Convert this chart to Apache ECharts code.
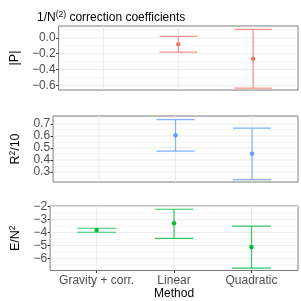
<!DOCTYPE html>
<html>
<head>
<meta charset="utf-8">
<script src="https://cdn.jsdelivr.net/npm/echarts@6/dist/echarts.min.js"></script>
<style>html,body{margin:0;padding:0;background:#fff}#c{width:301px;height:301px}</style>
</head>
<body>
<div id="c"></div>
<script>
var methods = ['Gravity + corr.', 'Linear', 'Quadratic'];
var methodPos = [1, 2, 3];

var pVal  = [null, -0.08, -0.265];
var pLow  = [null, -0.18, -0.635];
var pHigh = [null, 0.02, 0.11];

var rVal  = [null, 0.607, 0.452];
var rLow  = [null, 0.474, 0.236];
var rHigh = [null, 0.737, 0.665];

var eVal  = [-3.80, -3.28, -5.13];
var eLow  = [-3.98, -4.46, -6.75];
var eHigh = [-3.67, -2.20, -3.50];

var pTicks = [-0.6, -0.4, -0.2, 0.0];
var pMinor = [-0.5, -0.3, -0.1, 0.1];
var rTicks = [0.3, 0.4, 0.5, 0.6, 0.7];
var rMinor = [0.25, 0.35, 0.45, 0.55, 0.65, 0.75];
var eTicks = [-6, -5, -4, -3, -2];
var eMinor = [-6.5, -5.5, -4.5, -3.5, -2.5];

var pointColors = ['#F8766D', '#619CFF', '#00BA38'];
var barColors = ['#F9918A', '#81B0FF', '#33C860'];
var FONT = 'Liberation Sans';

var panels = [
  {val: pVal, low: pLow, high: pHigh, ticks: pTicks, minor: pMinor, min: -0.66, max: 0.152, dec: 1, top: 26, height: 64,
   name: '|P|'},
  {val: rVal, low: rLow, high: rHigh, ticks: rTicks, minor: rMinor, min: 0.216, max: 0.767, dec: 1, top: 116, height: 66,
   name: 'R{sup|2}/10'},
  {val: eVal, low: eLow, high: eHigh, ticks: eTicks, minor: eMinor, min: -6.94, max: -1.95, dec: 0, top: 206, height: 66,
   name: 'E/N{sup|2}'}
];

function fmt(v, dec) { return v.toFixed(dec).replace('-', '\u2212'); }

var grids = [], xAxes = [], yAxes = [], series = [];
panels.forEach(function (p, i) {
  var barColor = barColors[i];
  grids.push({left: 36, top: p.top, width: 262, height: p.height, show: true, borderColor: '#7a7a7a', borderWidth: 1, backgroundColor: 'transparent', containLabel: false});
  var last = i === panels.length - 1;
  xAxes.push({
    type: 'value', gridIndex: i, min: 0.4, max: 3.6,
    axisLine: {show: false}, splitLine: {show: false},
    axisTick: {show: last, customValues: methodPos, length: 2.5, lineStyle: {color: '#333', width: 1}},
    axisLabel: {show: last, customValues: methodPos, margin: 4, color: '#4D4D4D', fontSize: 12, fontFamily: FONT,
      formatter: function (v) { return methods[Math.round(v) - 1]; }},
    name: last ? 'Method' : '', nameLocation: 'middle', nameGap: 17.5,
    nameTextStyle: {color: '#000', fontSize: 12, fontFamily: FONT}
  });
  yAxes.push({
    type: 'value', gridIndex: i, min: p.min, max: p.max,
    axisLine: {show: false}, splitLine: {show: false},
    axisTick: {show: true, customValues: p.ticks, length: 2.5, lineStyle: {color: '#333', width: 1}},
    axisLabel: {customValues: p.ticks, margin: 3, color: '#4D4D4D', fontSize: 12, fontFamily: FONT,
      formatter: (function (d) { return function (v) { return fmt(v, d); }; })(p.dec)},
    name: p.name, nameLocation: 'middle', nameGap: 25, nameRotate: 90,
    nameTextStyle: {color: '#000', fontSize: 12.5, fontFamily: FONT,
      rich: {sup: {fontSize: 8.5, verticalAlign: 'top', padding: [0, 0, 7, 0], color: '#000', fontFamily: FONT}}}
  });

  var gl = [];
  p.minor.forEach(function (v) { gl.push([0, v, 0.5]); });
  p.ticks.forEach(function (v) { gl.push([0, v, 1]); });
  methodPos.forEach(function (v) { gl.push([1, v, 1]); });
  series.push({
    type: 'custom', xAxisIndex: i, yAxisIndex: i, z: 0, silent: true, clip: true,
    data: gl,
    renderItem: function (params, api) {
      var cs = params.coordSys;
      var kind = api.value(0), v = api.value(1), w = api.value(2);
      var shape;
      if (kind === 0) {
        var y = api.coord([1, v])[1];
        if (y < cs.y || y > cs.y + cs.height) return null;
        shape = {x1: cs.x, y1: y, x2: cs.x + cs.width, y2: y};
      } else {
        var x = api.coord([v, p.min])[0];
        shape = {x1: x, y1: cs.y, x2: x, y2: cs.y + cs.height};
      }
      return {type: 'line', shape: shape, style: {stroke: '#EBEBEB', lineWidth: w}};
    }
  });

  var eb = [];
  methodPos.forEach(function (x, k) {
    if (p.low[k] !== null) eb.push([x, p.low[k], p.high[k]]);
  });
  series.push({
    type: 'custom', xAxisIndex: i, yAxisIndex: i, z: 2, silent: true,
    data: eb,
    encode: {x: 0, y: [1, 2]},
    renderItem: function (params, api) {
      var lo = api.coord([api.value(0), api.value(1)]);
      var hi = api.coord([api.value(0), api.value(2)]);
      var hw = api.size([0.5, 0])[0] / 2;
      var st = {stroke: barColor, lineWidth: 1.2, fill: null};
      return {type: 'group', children: [
        {type: 'line', shape: {x1: lo[0], y1: lo[1], x2: hi[0], y2: hi[1]}, style: st},
        {type: 'line', shape: {x1: lo[0] - hw, y1: lo[1], x2: lo[0] + hw, y2: lo[1]}, style: st},
        {type: 'line', shape: {x1: hi[0] - hw, y1: hi[1], x2: hi[0] + hw, y2: hi[1]}, style: st}
      ]};
    }
  });

  var pts = [];
  methodPos.forEach(function (x, k) { if (p.val[k] !== null) pts.push([x, p.val[k]]); });
  series.push({
    type: 'scatter', xAxisIndex: i, yAxisIndex: i, z: 3, silent: true,
    data: pts, symbolSize: 4.5, itemStyle: {color: pointColors[i], opacity: 1}
  });
});

var chart = echarts.init(document.getElementById('c'), null, {renderer: 'canvas'});
chart.setOption({
  animation: false,
  backgroundColor: '#fff',
  title: {
    text: '1/N{sup|(2)} correction coefficients', left: 32, top: 5,
    textStyle: {color: '#000', fontSize: 12, fontWeight: 'normal', fontFamily: FONT,
      rich: {sup: {fontSize: 8.5, verticalAlign: 'top', padding: [0, 0, 6, 0], color: '#000', fontFamily: FONT}}}
  },
  grid: grids, xAxis: xAxes, yAxis: yAxes, series: series
});
</script>
</body>
</html>
